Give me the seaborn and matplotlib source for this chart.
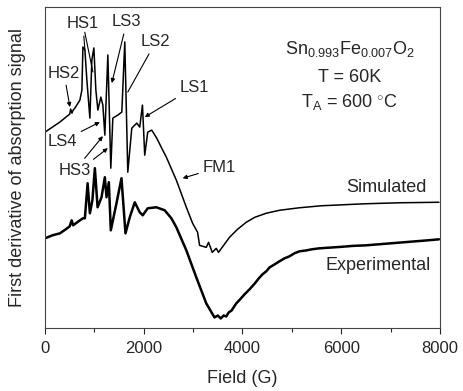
import numpy as np
import pandas as pd
import matplotlib
matplotlib.use("Agg")
import matplotlib.pyplot as plt
import seaborn as sb

# Simulated spectrum (field in G, signal in arbitrary units)
sim_field = [0, 300, 500, 520, 545, 570, 606, 707, 747, 768, 808, 848, 909, 949,
             990, 1030, 1071, 1131, 1172, 1212, 1273, 1333, 1374, 1475, 1556,
             1616, 1677, 1758, 1859, 1919, 1974, 2020, 2081, 2162, 2263, 2364,
             2458, 2661, 2863, 2990, 3091, 3131, 3267, 3313, 3388, 3469, 3515,
             3737, 3900, 4075, 4250, 4479, 4750, 5152, 5600, 6485, 7200, 7980]
sim_signal = [195, 205, 213, 218, 214, 217, 219, 227, 237, 280, 277, 247, 209, 267,
              279, 237, 217, 230, 222, 192, 272, 159, 209, 212, 215,
              285, 155, 199, 204, 200, 222, 172, 195, 197, 189, 179,
              170, 147, 120, 104, 95, 82, 80, 85, 75, 79, 75,
              90, 98, 105, 110, 114, 117, 119.5, 121.5, 123.5, 124.5, 125]

# Experimental spectrum
exp_field = [0, 150, 303, 420, 500, 540, 570, 680, 768, 808, 863, 909, 960, 1010,
             1065, 1145, 1212, 1246, 1293, 1333, 1448, 1549, 1630, 1717, 1818,
             1919, 1980, 2081, 2256, 2424, 2560, 2661, 2863, 3065, 3267, 3434,
             3500, 3560, 3620, 3671, 3720, 3780, 3873, 3950, 4040, 4141, 4250,
             4330, 4404, 4480, 4550, 4650, 4747, 4850, 4950, 5050, 5152, 5300,
             5400, 5550, 5700, 5850, 6000, 6250, 6499, 6750, 7000, 7250, 7500,
             7750, 7980]
exp_signal = [89, 92, 94, 98, 101, 107, 102, 106, 109, 109, 144, 114, 127, 159,
              120, 130, 150, 130, 145, 97, 124, 149, 94, 110, 125,
              115, 112, 119, 120, 117, 109, 100, 77, 50, 24, 10,
              12, 9, 12, 11, 15, 17, 24, 28, 33, 38, 44,
              49, 53, 56, 60, 63, 66, 69, 71, 74, 76, 77,
              78, 79, 79.5, 80, 80.5, 81.5, 82, 83, 84, 85, 86,
              87, 88]

sim_df = pd.DataFrame({"Field": sim_field, "Signal": sim_signal})
exp_df = pd.DataFrame({"Field": exp_field, "Signal": exp_signal})

sb.set_style("ticks")
plt.rcParams["font.family"] = ["Liberation Sans", "DejaVu Sans"]
plt.rcParams["mathtext.fontset"] = "custom"
plt.rcParams["mathtext.rm"] = "Liberation Sans"
plt.rcParams["mathtext.it"] = "Liberation Sans"

fig = plt.figure(figsize=(4.63, 3.91), dpi=100)
ax = fig.add_axes([0.0972, 0.1624, 0.853, 0.82])

sb.lineplot(data=sim_df, x="Field", y="Signal", ax=ax, color="black",
            linewidth=1.1, sort=False)
sb.lineplot(data=exp_df, x="Field", y="Signal", ax=ax, color="black",
            linewidth=1.8, sort=False)

ax.set_xlim(0, 8000)
ax.set_ylim(0, 320)
ax.set_xticks([0, 2000, 4000, 6000, 8000])
ax.set_xticks([1000, 3000, 5000, 7000], minor=True)
ax.set_yticks([])
ax.tick_params(axis="x", which="major", length=4, width=0.8, direction="out",
               labelsize=12, pad=6)
ax.tick_params(axis="x", which="minor", length=3, width=0.8, direction="out")
for sp in ax.spines.values():
    sp.set_visible(True)
    sp.set_linewidth(0.8)
    sp.set_color("#444444")

ax.set_xlabel("Field (G)", fontsize=13, labelpad=10)
ax.set_ylabel("First derivative of absorption signal", fontsize=13, labelpad=14)

# Peak labels
arrow = dict(arrowstyle="-|>", color="black", lw=0.8, mutation_scale=6,
             shrinkA=1, shrinkB=0)
line = dict(arrowstyle="-", color="black", lw=0.8, shrinkA=1, shrinkB=0)
fs = 12

ax.annotate("HS1", xy=(808, 277), xytext=(768, 303), ha="center", va="center",
            fontsize=fs, arrowprops=line)
ax.annotate("", xy=(970, 255), xytext=(800, 296), arrowprops=line)
ax.annotate("LS3", xy=(1353, 244), xytext=(1656, 305), ha="center", va="center",
            fontsize=fs, arrowprops=arrow)
ax.annotate("LS2", xy=(1677, 235), xytext=(2242, 285), ha="center", va="center",
            fontsize=fs, arrowprops=line)
ax.annotate("HS2", xy=(505, 220), xytext=(384, 254), ha="center", va="center",
            fontsize=fs, arrowprops=arrow)
ax.annotate("LS1", xy=(2020, 210), xytext=(3030, 240), ha="center", va="center",
            fontsize=fs, arrowprops=arrow)
ax.annotate("LS4", xy=(1111, 205), xytext=(343, 186), ha="center", va="center",
            fontsize=fs, arrowprops=arrow)
ax.annotate("HS3", xy=(1172, 191), xytext=(606, 157), ha="center", va="center",
            fontsize=fs, arrowprops=arrow)
ax.annotate("", xy=(1273, 179), xytext=(960, 167), arrowprops=arrow)
ax.annotate("FM1", xy=(2788, 149), xytext=(3535, 160), ha="center", va="center",
            fontsize=fs, arrowprops=arrow)

ax.text(7737, 140, "Simulated", ha="right", va="center", fontsize=13)
ax.text(7818, 62, "Experimental", ha="right", va="center", fontsize=13)

ax.text(6181, 278, r"Sn$_{0.993}$Fe$_{0.007}$O$_2$", ha="center", va="center",
        fontsize=13)
ax.text(6161, 250, "T = 60K", ha="center", va="center", fontsize=13)
ax.text(6161, 225, r"T$_A$ = 600 $^{\circ}$C", ha="center", va="center", fontsize=13)

plt.savefig("out.png", dpi=100)
